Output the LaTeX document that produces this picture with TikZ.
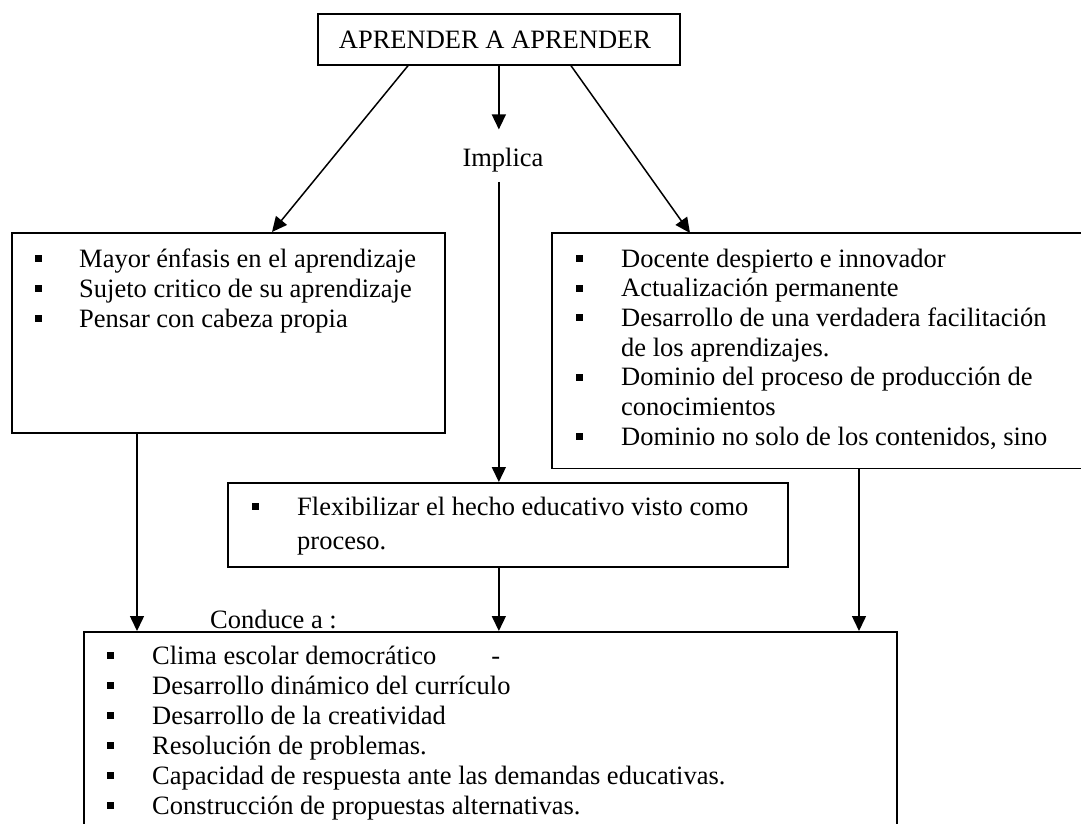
\documentclass[tikz,border=0pt]{standalone}
\usepackage{fontspec}
\setmainfont{Liberation Serif}
\usetikzlibrary{arrows.meta,calc}
\tikzset{
  box/.style={draw, line width=1.7pt, anchor=north west, inner sep=0pt},
  openbox/.style={anchor=north west, inner sep=0pt},
  edge/.style={line width=1.7pt},
  txt/.style={anchor=base west, inner sep=0pt, font=\fontsize{26.5}{30}\selectfont},
  ctxt/.style={anchor=base, inner sep=0pt, font=\fontsize{26.5}{30}\selectfont},
  conn/.style={line width=1.5pt},
  arr/.style={conn, -{Triangle[length=15pt,width=14pt]}},
}
\newcommand\bl[2]{\fill (#1-3.5,#2-12) rectangle ++(7,7);}
\begin{document}
\begin{tikzpicture}[x=1pt,y=-1pt]
\useasboundingbox (0,0) rectangle (1081,824);
\clip (0,0) rectangle (1081,824);
% boxes
\node[box, minimum width=362pt, minimum height=51pt] (top) at (317,13) {};
\node[box, minimum width=433pt, minimum height=200pt] (lbox) at (11,232) {};
\node[openbox, minimum width=560pt, minimum height=235pt] (rbox) at (552,233) {};
\draw[edge] (rbox.north east) -- (rbox.north west) -- (rbox.south west) -- (rbox.south east);
\node[box, minimum width=560pt, minimum height=84pt] (flex) at (227,482) {};
\node[box, minimum width=813pt, minimum height=240pt] (bbox) at (83,631) {};
% labels
\node[ctxt] (ttl) at (495,49) {APRENDER A APRENDER};
\node[ctxt] (imp) at (503,166) {Implica};
\node[txt] (cond) at (210,628) {Conduce a :};
% left box
\foreach \t [count=\i from 0] in {Mayor énfasis en el aprendizaje, Sujeto critico de su aprendizaje, Pensar con cabeza propia} {
  \node[txt] (L\i) at (79,267+30*\i) {\t};
  \bl{38.5}{267+30*\i}
}
% right box
\node[txt] (R0) at (621,267) {Docente despierto e innovador}; \bl{579}{267}
\node[txt] (R1) at (621,296.7) {Actualización permanente}; \bl{579}{296.7}
\node[txt] (R2) at (621,326.4) {Desarrollo de una verdadera facilitación}; \bl{579}{326.4}
\node[txt] (R3) at (621,356.1) {de los aprendizajes.};
\node[txt] (R4) at (621,385.8) {Dominio del proceso de producción de}; \bl{579}{385.8}
\node[txt] (R5) at (621,415.5) {conocimientos};
\node[txt] (R6) at (621,445.2) {Dominio no solo de los contenidos, sino}; \bl{579}{445.2}
% flex box
\node[txt] (F0) at (297,515) {Flexibilizar el hecho educativo visto como}; \bl{255}{515}
\node[txt] (F1) at (297,549) {proceso.};
% bottom box
\foreach \t [count=\i from 0] in {Clima escolar democrático\hspace{55pt}-, Desarrollo dinámico del currículo, Desarrollo de la creatividad, Resolución de problemas., Capacidad de respuesta ante las demandas educativas., Construcción de propuestas alternativas.} {
  \node[txt] (B\i) at (152,664+30*\i) {\t};
  \bl{110}{664+30*\i}
}
% connectors
\draw[arr] ($(top.south west)+(91,0)$) -- ($(lbox.north west)+(261,0)$);
\draw[arr] ($(top.south west)+(254,0)$) -- ($(rbox.north west)+(138,0)$);
\draw[arr, shorten >=18pt] (top.south) -- (top.south |- imp.north);
\draw[arr] ($(top.south |- imp.south)+(0,10)$) -- (top.south |- flex.north);
\draw[arr] (top.south |- flex.south) -- (top.south |- bbox.north);
\draw[arr] ($(lbox.south west)+(126,0)$) -- ($(bbox.north west)+(54,0)$);
\draw[arr] ($(rbox.south west)+(307,0)$) -- ($(bbox.north west)+(776,0)$);
\end{tikzpicture}
\end{document}
